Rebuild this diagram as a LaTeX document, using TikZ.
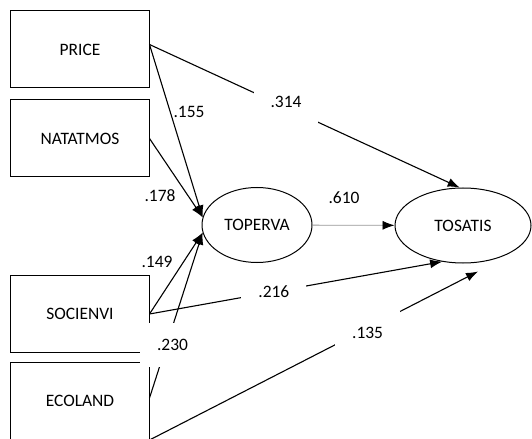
\documentclass[tikz,border=0pt]{standalone}
\usepackage{fontspec}
\setmainfont{Carlito}
\usetikzlibrary{arrows.meta,shapes.geometric}

\begin{document}
\begin{tikzpicture}[x=1bp,y=-1bp,
  obsbox/.style={draw,line width=1bp,minimum width=138bp,minimum height=77bp,inner sep=0pt,font=\fontsize{17.5}{20}\selectfont},
  latent/.style={draw,ellipse,line width=1bp,inner sep=0pt,minimum height=75bp,font=\fontsize{17.5}{20}\selectfont},
  arrowline/.style={->,>={Latex[length=12bp,width=9bp]},line width=1.1bp},
  coef/.style={inner sep=1bp,font=\fontsize{17.5}{20}\selectfont},
  gapcoef/.style={coef,fill=white,inner xsep=17bp,inner ysep=16bp}]
  \definecolor{lgray}{RGB}{150,150,150}
  \useasboundingbox (0,0) rectangle (532,439);
  % observed variables
  \node[obsbox] (price) at (80,49.5) {PRICE};
  \node[obsbox] (natatmos) at (80,138.5) {NATATMOS};
  \node[obsbox] (socienvi) at (80,314) {SOCIENVI};
  \node[obsbox] (ecoland) at (80,401) {ECOLAND};
  % latent variables
  \node[latent,minimum width=110bp] (toperva) at (257,225) {TOPERVA};
  \node[latent,minimum width=136bp] (tosatis) at (463,225.5) {TOSATIS};
  % paths to TOPERVA
  \draw[arrowline] ([yshift=5bp]price.east) -- (toperva.172);
  \node[coef] (c155) at (189,112) {.155};
  \draw[arrowline] (natatmos.east) -- (toperva.172);
  \node[coef] (c178) at (160,196) {.178};
  \draw[arrowline] (socienvi.east) -- (toperva.188);
  \node[coef] (c149) at (157,262) {.149};
  \draw[arrowline] ([yshift=3bp]ecoland.east) -- (toperva.188)
    node[gapcoef,pos=0.32,xshift=6bp] (c230) {.230};
  % paths to TOSATIS
  \draw[arrowline] ([yshift=5bp]price.east) -- (tosatis.95)
    node[gapcoef,pos=0.44,yshift=6bp] (c314) {.314};
  \draw[arrowline] (socienvi.east) -- (tosatis.240)
    node[gapcoef,pos=0.425] (c216) {.216};
  \draw[arrowline] (ecoland.south east) -- ([xshift=15bp,yshift=-8bp]tosatis.south)
    node[gapcoef,pos=0.664,yshift=-5bp] (c135) {.135};
  \draw[line width=0.8bp,lgray,-{Latex[length=12bp,width=9bp,black]}] (toperva) -- (tosatis);
  \node[coef] (c610) at (344,198) {.610};
\end{tikzpicture}
\end{document}
